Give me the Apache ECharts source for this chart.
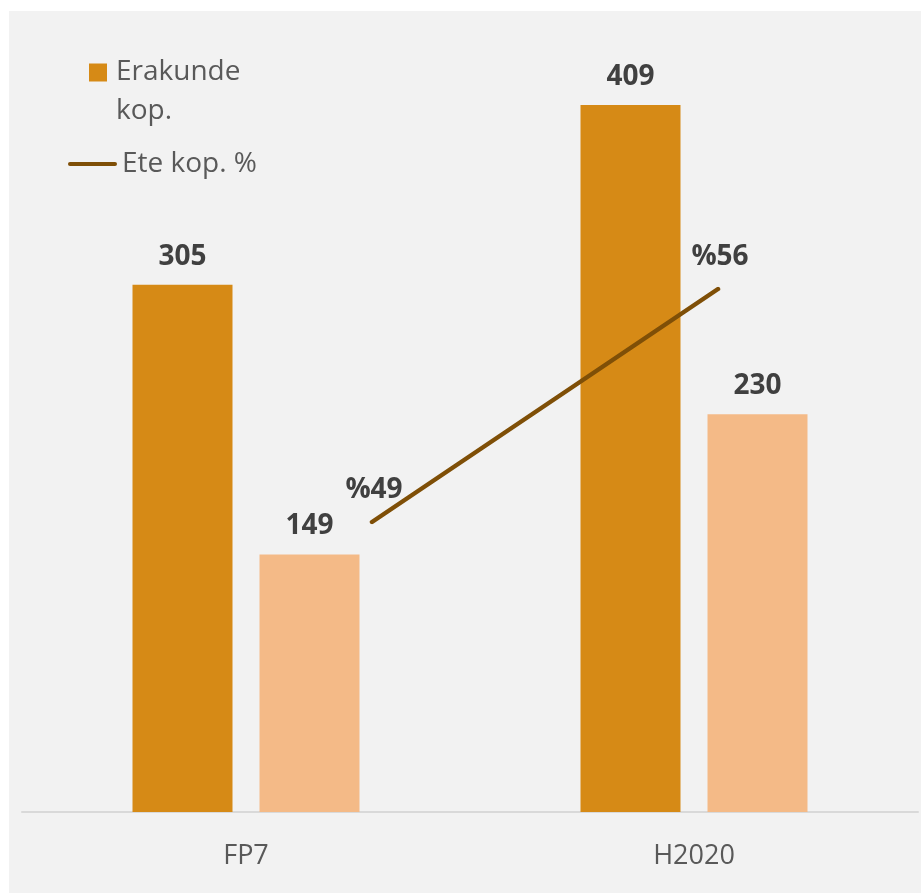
<!DOCTYPE html>
<html>
<head>
<meta charset="utf-8">
<script src="https://cdn.jsdelivr.net/npm/echarts@6/dist/echarts.min.js"></script>
<style>
html,body{margin:0;padding:0;background:#ffffff;}
#chart{width:921px;height:894px;}
</style>
</head>
<body>
<div id="chart"></div>
<script>
const categories = ['FP7', 'H2020'];
const erakundeKop = [305, 409];
const eteKop = [149, 230];
const eteKopPct = [49, 56];

const FONT = '"Open Sans", sans-serif';
const LINE_COLOR = '#7f4f07';
const chart = echarts.init(document.getElementById('chart'));
chart.setOption({
  backgroundColor: '#ffffff',
  animation: false,
  graphic: [{
    type: 'rect', z: -10, silent: true,
    shape: { x: 9, y: 11, width: 912, height: 882 },
    style: { fill: '#f2f2f2' }
  }],
  legend: [{
    left: 89, top: 14, padding: 0,
    data: ['Erakunde kop.'],
    icon: 'rect', itemWidth: 18, itemHeight: 18, itemGap: 0,
    formatter: function () { return '\nErakunde\nkop.'; },
    textStyle: { fontFamily: FONT, fontSize: 28, color: '#595959', lineHeight: 39, padding: [0, 0, 0, 4] }
  }, {
    left: 68, top: 145, padding: 0,
    data: [{ name: 'Ete kop. %', icon: 'path://M2,0 L47,0 A2,2 0 0 1 47,4 L2,4 A2,2 0 0 1 2,0 Z' }],
    itemWidth: 49, itemHeight: 14,
    textStyle: { fontFamily: FONT, fontSize: 28, color: '#595959', lineHeight: 38 }
  }],
  grid: [
    { left: 22, right: 3, top: 34, bottom: 82 },
    { left: 372, right: 203, top: 289, bottom: 372 }
  ],
  xAxis: [{
    type: 'category', gridIndex: 0, data: categories,
    axisLine: { show: true, lineStyle: { color: '#d9d9d9', width: 2 } },
    axisTick: { show: false },
    axisLabel: { margin: 31, fontFamily: FONT, fontSize: 27, color: '#595959' }
  }, {
    type: 'category', gridIndex: 1, data: categories, boundaryGap: false, show: false
  }],
  yAxis: [{
    type: 'value', gridIndex: 0, min: 0, max: 450, show: false,
    splitLine: { show: false }
  }, {
    type: 'value', gridIndex: 1, min: 49, max: 56, show: false,
    splitLine: { show: false }
  }],
  series: [{
    name: 'Erakunde kop.', type: 'bar', xAxisIndex: 0, yAxisIndex: 0,
    data: erakundeKop, barWidth: 100, barGap: '27%',
    itemStyle: { color: '#d68a16' },
    label: { show: true, position: 'top', distance: 14, fontFamily: FONT, fontSize: 28, fontWeight: 'bold', color: '#404040' }
  }, {
    name: 'Ete kop.', type: 'bar', xAxisIndex: 0, yAxisIndex: 0,
    data: eteKop, barWidth: 100,
    itemStyle: { color: '#f4ba87' },
    label: { show: true, position: 'top', distance: 14, fontFamily: FONT, fontSize: 28, fontWeight: 'bold', color: '#404040' }
  }, {
    name: 'Ete kop. %', type: 'line', xAxisIndex: 1, yAxisIndex: 1,
    data: eteKopPct, symbol: 'circle', symbolSize: 1, showSymbol: true,
    lineStyle: { color: LINE_COLOR, width: 4.5, cap: 'round' },
    itemStyle: { color: LINE_COLOR },
    label: { show: true, position: 'top', distance: 17, offset: [2, 0], formatter: '%{c}', fontFamily: FONT, fontSize: 28, fontWeight: 'bold', color: '#404040' }
  }]
});
</script>
</body>
</html>
